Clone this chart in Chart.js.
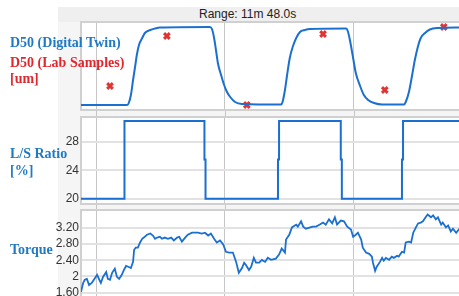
<!DOCTYPE html>
<html>
<head>
<meta charset="utf-8">
<script src="https://cdn.jsdelivr.net/npm/chart.js@4.4.1/dist/chart.umd.min.js"></script>
<style>
  body { margin: 0; background: #fff; }
  #wrap { position: relative; width: 459px; height: 296px; overflow: hidden; }
  #bg { position: absolute; left: 58px; top: 7px; right: 0; bottom: 0; background: #f5f5f5; }
  #strip { position: absolute; left: 58px; top: 7px; right: 0; height: 15px; background: #efefef; }
  canvas { position: absolute; left: 0; top: 0; }
  #title { position: absolute; left: 199px; top: 7px; font: 12px "Liberation Sans", Arial, sans-serif; color: #222; line-height: 15px; white-space: nowrap; }
  .lbl { position: absolute; left: 10px; font: bold 14px "Liberation Serif", serif; line-height: 14px; white-space: nowrap; }
  .blue { color: #1f7ac6; }
  .red { color: #e3262c; }
</style>
</head>
<body>
<div id="wrap">
  <div id="bg"></div>
  <div id="strip"></div>
  <div id="title">Range: 11m 48.0s</div>
  <canvas id="d50" width="470" height="310"></canvas>
  <canvas id="ratio" width="470" height="310"></canvas>
  <canvas id="torque" width="470" height="310"></canvas>
  <div class="lbl blue" style="top:36px">D50 (Digital Twin)</div>
  <div class="lbl red" style="top:56px">D50 (Lab Samples)</div>
  <div class="lbl red" style="top:72px">[um]</div>
  <div class="lbl blue" style="top:147px">L/S Ratio</div>
  <div class="lbl blue" style="top:164px">[%]</div>
  <div class="lbl blue" style="top:243px">Torque</div>
</div>
<script>
// time in seconds, visible range 11m 48s
var timeGrid = [28, 268, 508];

var d50Time = [0, 86, 89, 93, 97, 101, 104, 108, 114, 119, 129, 138, 147, 240, 244, 248, 252, 255, 261, 266,
  272, 278, 287, 300, 373, 376, 380, 384, 389, 395, 401, 408, 417, 427, 494, 497, 501, 507, 512, 520,
  527, 535, 546, 561, 602, 605, 611, 617, 622, 628, 633, 641, 650, 663, 708];
var d50Value = [105, 105, 107, 115, 130, 144, 155, 165, 172, 177, 180, 181.5, 182.5, 183, 181, 172, 158, 147, 135, 126,
  118, 113, 108, 106, 105.5, 109, 120, 135, 152, 164, 172, 178, 180, 181, 181.5, 179, 170, 152, 137, 124,
  115, 110, 107, 105.5, 105.5, 108, 118, 135, 150, 164, 172, 177, 180.5, 182, 182.5];

var labTime = [54, 160, 309, 451, 566, 676];
var labValue = [124, 174, 105, 176, 120, 183];

var ratioTime = [0, 81, 230, 232, 367, 369, 484, 486, 598, 600, 708];
var ratioValue = [20, 30.9, 25.5, 20, 25.5, 30.9, 25.5, 20, 25.5, 30.9, 30.9];
var ratioTicks = [20, 24, 28];

var torqueTime = [0, 4, 7, 11, 15, 20, 24, 30, 34, 37, 41, 47, 50, 54, 58, 63, 67, 71, 76, 80,
  84, 88, 93, 97, 99, 102, 106, 110, 114, 117, 123, 129, 134, 138, 142, 147, 151, 156, 162, 168,
  173, 179, 183, 188, 194, 199, 207, 212, 218, 225, 231, 237, 242, 248, 253, 259, 265, 270, 276, 283,
  289, 294, 300, 304, 307, 313, 317, 322, 326, 332, 337, 343, 348, 354, 363, 369, 374, 380, 382, 388,
  393, 401, 404, 410, 414, 419, 427, 432, 438, 445, 451, 456, 462, 468, 473, 477, 484, 490, 496, 503,
  507, 512, 516, 522, 525, 531, 537, 542, 544, 548, 551, 557, 561, 564, 568, 574, 579, 583, 589, 592,
  598, 602, 605, 611, 615, 619, 624, 628, 633, 637, 643, 646, 652, 656, 661, 665, 671, 674, 680, 684,
  689, 693, 699, 704, 708];
var torqueValue = [1.62, 1.84, 1.92, 1.94, 1.79, 1.84, 1.92, 2.04, 1.92, 1.84, 1.99, 2.11, 1.94, 1.92, 2.09, 2.19, 1.99, 1.94, 2.04, 2.16,
  2.26, 2.24, 2.21, 2.36, 2.66, 2.71, 2.71, 2.84, 2.93, 2.96, 3.03, 3.06, 3.01, 2.93, 2.96, 2.98, 2.93, 2.96, 2.93, 2.96,
  2.89, 2.96, 2.98, 2.86, 2.96, 3.03, 3.08, 3.08, 3.08, 3.06, 3.08, 3.01, 3.06, 2.93, 2.84, 2.89, 2.79, 2.61, 2.59, 2.59,
  2.36, 2.09, 2.21, 2.34, 2.29, 2.16, 2.24, 2.46, 2.34, 2.34, 2.41, 2.36, 2.46, 2.41, 2.44, 2.54, 2.69, 2.59, 2.91, 3.03,
  3.21, 3.28, 3.23, 3.36, 3.23, 3.18, 3.21, 3.23, 3.23, 3.28, 3.33, 3.28, 3.41, 3.31, 3.46, 3.28, 3.38, 3.36, 3.23, 3.16,
  2.98, 3.03, 3.08, 2.91, 2.71, 2.59, 2.56, 2.49, 2.34, 2.14, 2.24, 2.36, 2.46, 2.39, 2.46, 2.41, 2.49, 2.46, 2.51, 2.49,
  2.61, 2.59, 2.84, 2.86, 2.84, 3.08, 3.21, 3.31, 3.33, 3.36, 3.48, 3.53, 3.46, 3.51, 3.41, 3.46, 3.28, 3.33, 3.21, 3.26,
  3.11, 3.18, 3.08, 3.16, 3.13];
var torqueTicks = [1.6, 2, 2.4, 2.8, 3.2];

var lineBlue = '#1a6fd0';

function pts(xs, ys) {
  return xs.map(function (x, i) { return { x: x, y: ys[i] }; });
}

// white plot area, grey frame, grid continued through the gap under the panel
var panelFrame = {
  id: 'panelFrame',
  beforeDraw: function (chart) {
    var a = chart.chartArea, c = chart.ctx;
    c.save();
    c.fillStyle = '#fff';
    c.fillRect(a.left, a.top, a.right - a.left, a.bottom - a.top);
    c.restore();
  },
  beforeDatasetsDraw: function (chart) {
    var a = chart.chartArea, c = chart.ctx, xs = chart.scales.x;
    c.save();
    c.strokeStyle = '#c6c6c6';
    c.lineWidth = 1;
    timeGrid.forEach(function (t) {
      var x = Math.round(xs.getPixelForValue(t)) + 0.5;
      c.beginPath();
      c.moveTo(x, a.bottom);
      c.lineTo(x, a.bottom + 8);
      c.stroke();
    });
    c.strokeStyle = '#d0d0d0';
    c.lineWidth = 2;
    c.strokeRect(a.left, a.top, a.right - a.left, a.bottom - a.top);
    c.restore();
  }
};

function xAxis() {
  return {
    type: 'linear', min: 0, max: 708,
    afterBuildTicks: function (s) { s.ticks = timeGrid.map(function (v) { return { value: v }; }); },
    afterFit: function (s) { s.height = 0; },
    ticks: { display: false },
    grid: { color: '#c6c6c6', lineWidth: 1, drawTicks: false },
    border: { display: false }
  };
}

function yAxis(min, max, ticks, fmt) {
  return {
    min: min, max: max,
    afterBuildTicks: function (s) { s.ticks = ticks.map(function (v) { return { value: v }; }); },
    afterFit: function (s) { s.width = 40; },
    ticks: {
      padding: 2, color: '#333',
      font: { family: '"Liberation Sans", Arial, sans-serif', size: 12 },
      callback: fmt
    },
    grid: { color: '#e2e2e2', lineWidth: 2, drawTicks: false },
    border: { display: false }
  };
}

function common(padding, y) {
  return {
    responsive: false, animation: false, devicePixelRatio: 1,
    layout: { padding: padding },
    plugins: { legend: { display: false }, tooltip: { enabled: false } },
    scales: { x: xAxis(), y: y }
  };
}

new Chart(document.getElementById('d50'), {
  type: 'line',
  data: {
    datasets: [{
      data: pts(d50Time, d50Value),
      borderColor: lineBlue, borderWidth: 2, pointRadius: 0,
      cubicInterpolationMode: 'monotone'
    }, {
      data: pts(labTime, labValue),
      showLine: false, pointStyle: 'crossRot', pointRadius: 4,
      borderColor: '#e03535', borderWidth: 3
    }]
  },
  options: common({ left: 81, top: 22, right: 9, bottom: 200 }, { display: false, min: 100, max: 188 }),
  plugins: [panelFrame]
});

new Chart(document.getElementById('ratio'), {
  type: 'line',
  data: {
    datasets: [{
      data: pts(ratioTime, ratioValue),
      borderColor: lineBlue, borderWidth: 2, pointRadius: 0, stepped: true
    }]
  },
  options: common({ left: 41, top: 117, right: 9, bottom: 106 }, yAxis(19.27, 31.45, ratioTicks)),
  plugins: [panelFrame]
});

new Chart(document.getElementById('torque'), {
  type: 'line',
  data: {
    datasets: [{
      data: pts(torqueTime, torqueValue),
      borderColor: lineBlue, borderWidth: 1.8, pointRadius: 0
    }]
  },
  options: common({ left: 41, top: 210, right: 9, bottom: 10 }, yAxis(1.42, 3.64, torqueTicks, function (v) {
    return v === 2 ? '2' : v.toFixed(2);
  })),
  plugins: [panelFrame]
});
</script>
</body>
</html>
